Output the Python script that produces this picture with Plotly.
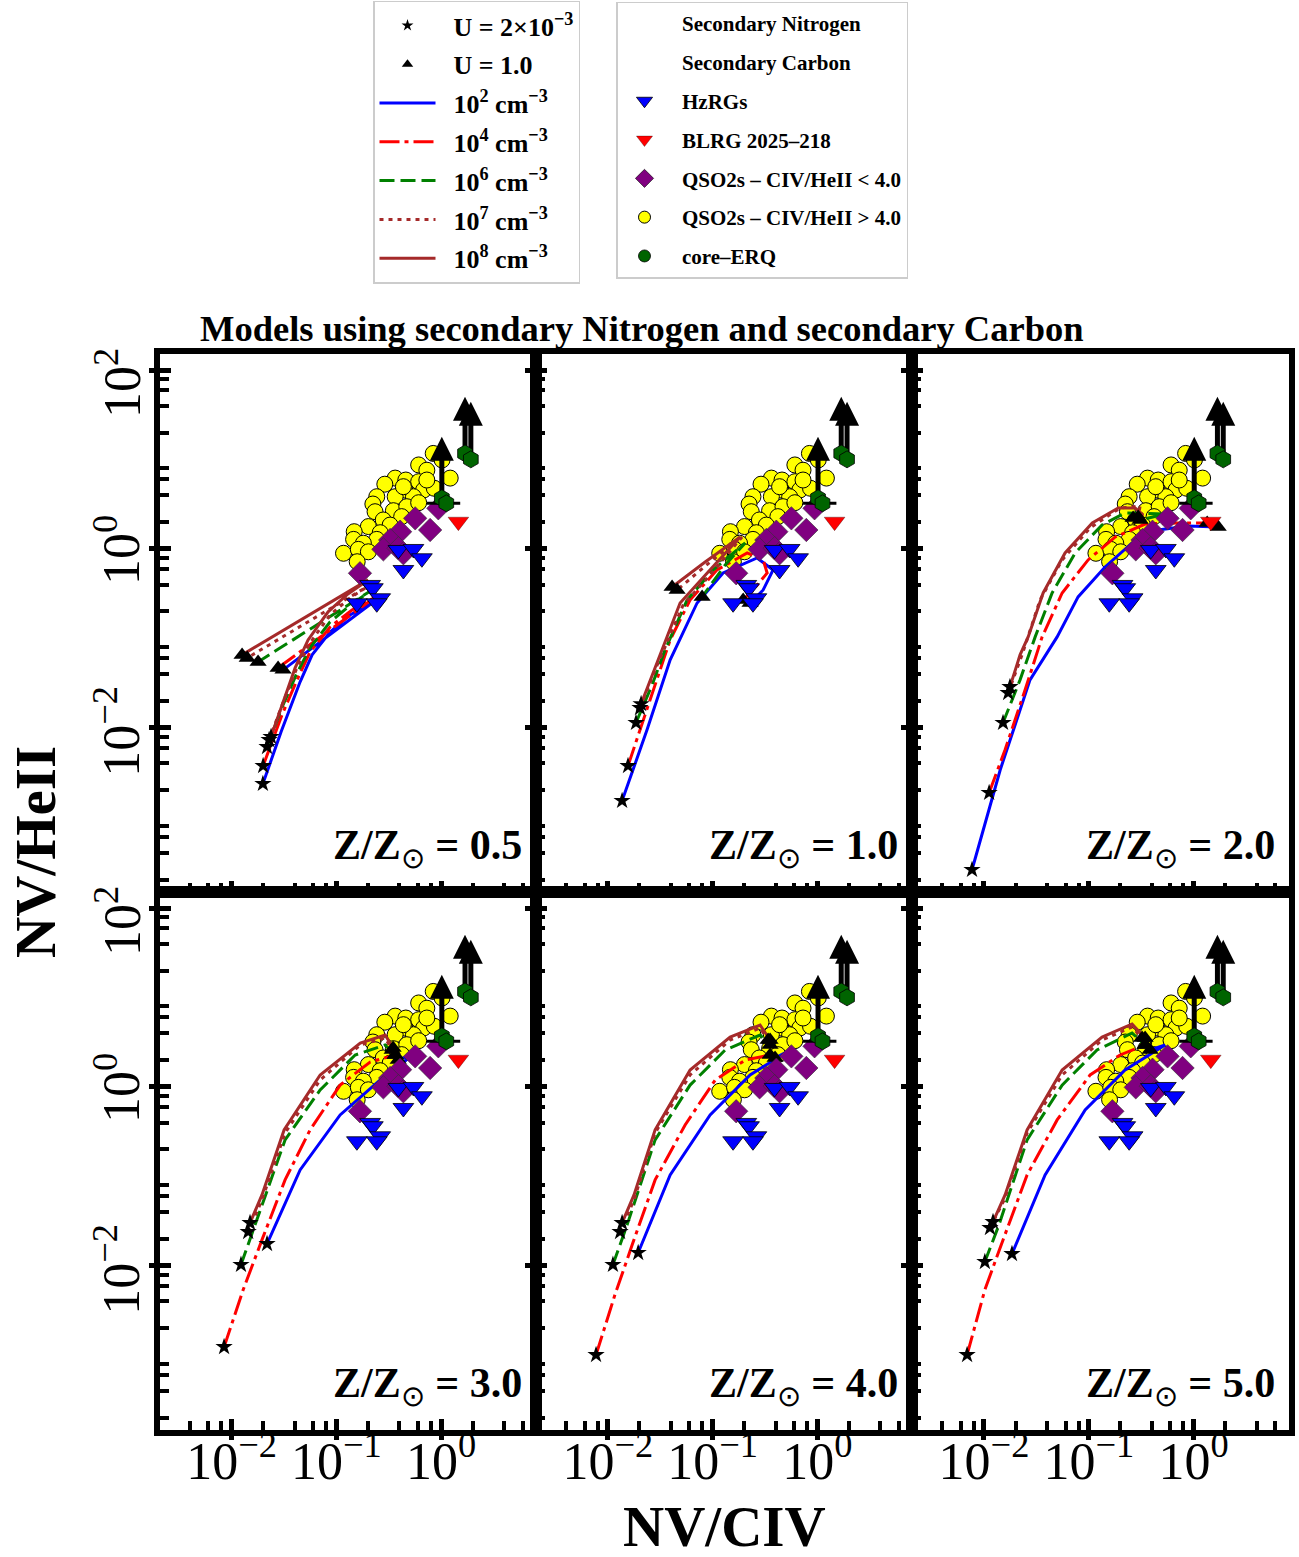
import math
import plotly.graph_objects as go

W, H = 1299, 1557
SERIF = "Liberation Serif"

# ---------------- observed samples (identical in all panels) ----------------
qso_hi_x = [0.84, 1.02, 0.61, 0.73, 1.22, 0.364, 0.46, 0.61, 0.29, 0.45, 0.68, 0.86, 0.243, 0.364,
            0.544, 0.223, 0.35, 0.47, 0.61, 0.234, 0.42, 0.28, 0.202, 0.326, 0.262, 0.148, 0.146,
            0.243, 0.181, 0.117, 0.162, 0.202, 0.158, 0.436, 0.73]
qso_hi_y = [11.7, 9.9, 8.7, 7.6, 6.2, 6.2, 5.9, 5.65, 5.3, 4.56, 4.56, 4.77, 3.84, 3.84,
            3.84, 3.18, 2.68, 2.97, 3.29, 2.61, 2.30, 2.11, 1.78, 1.85, 1.52, 1.56, 1.28,
            1.28, 1.16, 0.895, 0.99, 0.93, 0.72, 4.97, 5.9]
qso_lo_x = [0.94, 0.565, 0.785, 0.406, 0.326, 0.281, 0.391, 0.436, 0.168]
qso_lo_y = [2.85, 2.2, 1.63, 1.56, 1.26, 0.99, 1.02, 0.895, 0.535]
hzrg_x = [0.391, 0.544, 0.655, 0.436, 0.21, 0.223, 0.157, 0.262, 0.243]
hzrg_y = [0.975, 1.0, 0.787, 0.582, 0.396, 0.364, 0.247, 0.281, 0.247]
blrg_x = [1.46]
blrg_y = [2.02]
erq_x = [1.69, 1.92, 1.015, 1.12]
erq_y = [11.7, 10.05, 3.69, 3.24]
erq_xerr_minus = [0, 0, 0, 0.39]
erq_xerr_plus = [0, 0, 0, 0.40]
# lower limits on NV/HeII (arrows)
erq_lim_x = [1.69, 1.92, 1.015]
erq_lim_base = [11.7, 10.05, 3.69]
erq_lim_top = [50.3, 44.2, 18.0]

# ---------------- photoionisation models ----------------
# order in each list: n=1e2, 1e4, 1e6, 1e7, 1e8 ; first point U=2e-3, last point U=1.0
z05_x = [[0.0199, 0.0297, 0.0451, 0.0587, 0.0871, 0.135, 0.219, 0.031],
         [0.02, 0.0303, 0.0422, 0.0561, 0.0871, 0.141, 0.229, 0.0278],
         [0.0218, 0.031, 0.0413, 0.0561, 0.0871, 0.141, 0.219, 0.0179],
         [0.0228, 0.0317, 0.0413, 0.0561, 0.0871, 0.135, 0.21, 0.0141],
         [0.0238, 0.0324, 0.0404, 0.0537, 0.0834, 0.129, 0.201, 0.0126]]
z05_y = [[0.00237, 0.00902, 0.0327, 0.0654, 0.118, 0.183, 0.249, 0.0445],
         [0.00376, 0.014, 0.0344, 0.0707, 0.134, 0.208, 0.284, 0.0468],
         [0.00613, 0.0181, 0.0391, 0.0783, 0.153, 0.243, 0.348, 0.0546],
         [0.00734, 0.0206, 0.0445, 0.0891, 0.183, 0.284, 0.396, 0.0605],
         [0.00794, 0.0216, 0.0468, 0.0962, 0.198, 0.314, 0.451, 0.0654]]

z10_x = [[0.0137, 0.0237, 0.0394, 0.0712, 0.126, 0.266, 0.378, 0.304, 0.228],
         [0.0156, 0.0253, 0.0394, 0.061, 0.11, 0.214, 0.304, 0.332, 0.244, 0.196],
         [0.0186, 0.0265, 0.0352, 0.0571, 0.101, 0.205, 0.132, 0.0795],
         [0.0203, 0.0283, 0.0377, 0.0524, 0.0948, 0.191, 0.0948, 0.0459],
         [0.0208, 0.0283, 0.036, 0.049, 0.0907, 0.183, 0.0849, 0.0411]]
z10_y = [[0.00153, 0.0095, 0.0575, 0.249, 0.539, 0.794, 0.582, 0.348, 0.249],
         [0.00376, 0.0206, 0.0962, 0.269, 0.582, 0.902, 0.754, 0.539, 0.348, 0.269],
         [0.0114, 0.0302, 0.0744, 0.269, 0.582, 1.167, 0.663, 0.291],
         [0.0167, 0.0445, 0.0962, 0.237, 0.512, 1.362, 0.716, 0.348],
         [0.0185, 0.0468, 0.0962, 0.249, 0.553, 1.362, 0.716, 0.376]]

z20_x = [[0.00769, 0.0143, 0.0275, 0.0499, 0.0791, 0.143, 0.259, 0.459, 0.888, 1.718],
         [0.0112, 0.0159, 0.0247, 0.0359, 0.0557, 0.0986, 0.179, 0.345, 0.713, 1.349],
         [0.0152, 0.0221, 0.0308, 0.0447, 0.0741, 0.134, 0.222, 0.536, 0.309],
         [0.017, 0.0231, 0.0343, 0.0557, 0.103, 0.199, 0.309, 0.296],
         [0.0177, 0.0221, 0.0264, 0.0367, 0.0594, 0.108, 0.191, 0.277, 0.33, 0.265]]
z20_y = [[0.000259, 0.0034, 0.0344, 0.104, 0.291, 0.629, 1.167, 1.63, 1.807, 1.762],
         [0.00188, 0.00568, 0.0266, 0.104, 0.322, 0.754, 1.362, 1.902, 1.954, 1.954],
         [0.0114, 0.0344, 0.104, 0.322, 0.902, 1.855, 2.525, 2.46, 2.11],
         [0.0246, 0.0654, 0.269, 0.754, 1.717, 2.87, 3.02, 2.28],
         [0.0287, 0.0654, 0.104, 0.322, 0.902, 1.954, 2.87, 2.87, 2.4, 2.22]]

z30_x = [[0.0218, 0.0451, 0.1086, 0.262, 0.565, 0.389],
         [0.00848, 0.0129, 0.0195, 0.0324, 0.0561, 0.1086, 0.21, 0.364],
         [0.0123, 0.0168, 0.0324, 0.07, 0.151, 0.292, 0.364],
         [0.0144, 0.0195, 0.0324, 0.07, 0.169, 0.292, 0.341],
         [0.015, 0.0195, 0.0317, 0.07, 0.169, 0.292, 0.348]]
z30_y = [[0.0176, 0.118, 0.486, 1.197, 2.4, 2.0],
         [0.00124, 0.0054, 0.0195, 0.0914, 0.331, 1.05, 1.9, 2.28],
         [0.0103, 0.0287, 0.256, 0.926, 2.28, 2.95, 2.28],
         [0.024, 0.0546, 0.306, 1.197, 2.95, 3.53, 2.59],
         [0.0302, 0.0621, 0.331, 1.362, 3.1, 3.81, 2.73]]

z40_x = [[0.0195, 0.0394, 0.0948, 0.228, 0.55, 0.395],
         [0.00773, 0.0117, 0.0171, 0.0283, 0.0547, 0.106, 0.205, 0.354],
         [0.0112, 0.0153, 0.0283, 0.061, 0.132, 0.284, 0.354],
         [0.0131, 0.0178, 0.0283, 0.061, 0.147, 0.284, 0.339],
         [0.0137, 0.0178, 0.0283, 0.061, 0.147, 0.284, 0.354]]
z40_y = [[0.014, 0.104, 0.486, 1.362, 2.59, 2.11],
         [0.00101, 0.00474, 0.0172, 0.0914, 0.376, 1.197, 2.0, 2.28],
         [0.0103, 0.0287, 0.256, 1.05, 2.59, 3.81, 2.95],
         [0.024, 0.0546, 0.306, 1.362, 3.35, 4.56, 3.35],
         [0.0302, 0.0621, 0.331, 1.549, 3.62, 4.93, 3.35]]

z50_x = [[0.0185, 0.0383, 0.0923, 0.222, 0.536, 0.385],
         [0.0069, 0.0102, 0.0152, 0.0258, 0.0499, 0.103, 0.199, 0.345],
         [0.0102, 0.0139, 0.0258, 0.0557, 0.12, 0.259, 0.345],
         [0.0114, 0.0156, 0.0258, 0.0557, 0.134, 0.259, 0.323],
         [0.0122, 0.0159, 0.0258, 0.0557, 0.134, 0.259, 0.345]]
z50_y = [[0.0136, 0.104, 0.553, 1.549, 2.95, 2.59],
         [0.00101, 0.0054, 0.0195, 0.104, 0.428, 1.362, 2.28, 2.95],
         [0.0111, 0.0287, 0.256, 1.05, 2.59, 4.01, 2.95],
         [0.0266, 0.0546, 0.306, 1.362, 3.35, 4.68, 3.53],
         [0.031, 0.0621, 0.331, 1.549, 3.62, 5.06, 3.53]]

metallicities = ["0.5", "1.0", "2.0", "3.0", "4.0", "5.0"]
panel_x = [z05_x, z10_x, z20_x, z30_x, z40_x, z50_x]
panel_y = [z05_y, z10_y, z20_y, z30_y, z40_y, z50_y]

dens_names = ["10<sup>2</sup> cm<sup>−3</sup>", "10<sup>4</sup> cm<sup>−3</sup>",
              "10<sup>6</sup> cm<sup>−3</sup>", "10<sup>7</sup> cm<sup>−3</sup>",
              "10<sup>8</sup> cm<sup>−3</sup>"]
dens_colors = ["#0000ff", "#ff0000", "#008000", "#a52a2a", "#a52a2a"]
dens_dash = ["solid", "20px,5px,4px,5px", "15px,6px", "4px,5px", "solid"]

x_major = [1e-2, 1e-1, 1e0]
x_major_text = ["10<sup>−2</sup>", "10<sup>−1</sup>", "10<sup>0</sup>"]
y_major = [1e-2, 1e0, 1e2]
y_major_text = ["10<sup>−2</sup>", "10<sup>0</sup>", "10<sup>2</sup>"]
y_label_shift = [-4, -1, -13]          # rotated label placement as in the original
x_minor = [m * 10.0 ** e for e in range(-3, 1) for m in (2, 4, 6, 8)]
y_minor = [m * 10.0 ** e for e in range(-4, 3) for m in (2, 4, 6, 8)]
X_RANGE = [-2.683, 0.907]
Y_RANGE = [-3.83, 2.18]

fig = go.Figure()

LEFT, PW = 160.0, 376.2
ROW_TOP = [354.0, 892.0]
PH = 537.5


def sfx(k):
    return "" if k == 1 else str(k)


for k in range(1, 7):
    r, c = divmod(k - 1, 3)
    xa, ya = "x" + sfx(k), "y" + sfx(k)
    mx, my = panel_x[k - 1], panel_y[k - 1]

    # QSO2s CIV/HeII > 4
    fig.add_trace(go.Scatter(x=qso_hi_x, y=qso_hi_y, mode="markers", xaxis=xa, yaxis=ya,
                             marker=dict(symbol="circle", size=16, color="#ffff00",
                                         line=dict(color="black", width=1)),
                             showlegend=False, hoverinfo="skip"))
    # model curves
    for i in range(5):
        fig.add_trace(go.Scatter(x=mx[i], y=my[i], mode="lines", xaxis=xa, yaxis=ya,
                                 line=dict(color=dens_colors[i], width=3, dash=dens_dash[i]),
                                 showlegend=False, hoverinfo="skip"))
    fig.add_trace(go.Scatter(x=[s[0] for s in mx], y=[s[0] for s in my], mode="markers",
                             xaxis=xa, yaxis=ya,
                             marker=dict(symbol="star", size=13, color="black"),
                             showlegend=False, hoverinfo="skip"))
    fig.add_trace(go.Scatter(x=[s[-1] for s in mx], y=[s[-1] for s in my], mode="markers",
                             xaxis=xa, yaxis=ya,
                             marker=dict(symbol="triangle-up", size=15, color="black"),
                             showlegend=False, hoverinfo="skip"))
    # QSO2s CIV/HeII < 4
    fig.add_trace(go.Scatter(x=qso_lo_x, y=qso_lo_y, mode="markers", xaxis=xa, yaxis=ya,
                             marker=dict(symbol="diamond", size=18, color="#800080",
                                         line=dict(color="#333333", width=0.6)),
                             showlegend=False, hoverinfo="skip"))
    fig.add_trace(go.Scatter(x=hzrg_x, y=hzrg_y, mode="markers", xaxis=xa, yaxis=ya,
                             marker=dict(symbol="triangle-down", size=18, color="#0000ff",
                                         line=dict(color="black", width=0.8)),
                             showlegend=False, hoverinfo="skip"))
    fig.add_trace(go.Scatter(x=blrg_x, y=blrg_y, mode="markers", xaxis=xa, yaxis=ya,
                             marker=dict(symbol="triangle-down", size=18, color="#ff0000",
                                         line=dict(color="black", width=0.3)),
                             showlegend=False, hoverinfo="skip"))
    # lower-limit arrows
    for j in range(len(erq_lim_x)):
        fig.add_trace(go.Scatter(x=[erq_lim_x[j], erq_lim_x[j]],
                                 y=[erq_lim_base[j], erq_lim_top[j] / 10 ** 0.2],
                                 mode="lines", xaxis=xa, yaxis=ya,
                                 line=dict(color="black", width=5),
                                 showlegend=False, hoverinfo="skip"))
        fig.add_trace(go.Scatter(x=[erq_lim_x[j]], y=[erq_lim_top[j]], mode="markers",
                                 xaxis=xa, yaxis=ya,
                                 marker=dict(symbol="arrow-up", size=24, color="black",
                                             line=dict(width=0)),
                                 showlegend=False, hoverinfo="skip"))
    fig.add_trace(go.Scatter(x=erq_x, y=erq_y, mode="markers", xaxis=xa, yaxis=ya,
                             error_x=dict(type="data", symmetric=False, array=erq_xerr_plus,
                                          arrayminus=erq_xerr_minus, color="black",
                                          thickness=3, width=0),
                             marker=dict(symbol="hexagon", size=17, color="#006400",
                                         line=dict(color="black", width=0.8)),
                             showlegend=False, hoverinfo="skip"))

    x0 = (LEFT + c * PW) / W
    x1 = (LEFT + (c + 1) * PW) / W
    y1 = 1 - ROW_TOP[r] / H
    y0 = 1 - (ROW_TOP[r] + PH) / H
    common = dict(type="log", showgrid=False, zeroline=False, showline=True, linewidth=5.5,
                  linecolor="black", mirror=True, ticks="inside", ticklen=11, tickwidth=4.5,
                  tickcolor="black", automargin=False,
                  tickfont=dict(family=SERIF, size=52, color="black"))
    fig.layout["xaxis" + sfx(k)] = dict(common, domain=[x0, x1], anchor=ya, range=X_RANGE,
                                        tickmode="array", tickvals=x_major, ticktext=x_major_text,
                                        showticklabels=(r == 1), tickangle=0,
                                        ticklabelstandoff=-19,
                                        minor=dict(ticks="inside", ticklen=9, tickwidth=3.5,
                                                   tickcolor="black", tickmode="array",
                                                   tickvals=x_minor, showgrid=False))
    fig.layout["yaxis" + sfx(k)] = dict(common, domain=[y0, y1], anchor=xa, range=Y_RANGE,
                                        tickmode="array", tickvals=y_major, ticktext=y_major_text,
                                        showticklabels=False,
                                        minor=dict(ticks="inside", ticklen=9, tickwidth=3.5,
                                                   tickcolor="black", tickmode="array",
                                                   tickvals=y_minor, showgrid=False))
    # y tick labels of the left column (rotated)
    if c == 0:
        for v, t, s in zip(y_major, y_major_text, y_label_shift):
            fig.add_annotation(xref="paper", yref=ya, x=118 / W, y=math.log10(v), yshift=s,
                               xanchor="center", yanchor="middle", textangle=-90,
                               showarrow=False, text=t,
                               font=dict(family=SERIF, size=52, color="black"))
    # outward part of the major ticks (in-out ticks)
    oy = "y" + str(k + 6)
    fig.layout["yaxis" + str(k + 6)] = dict(type="log", overlaying=ya, anchor=xa, side="left",
                                            range=Y_RANGE, showgrid=False, zeroline=False,
                                            showline=False, ticks="outside", ticklen=10,
                                            tickwidth=4.5, tickcolor="black", tickmode="array",
                                            tickvals=y_major, showticklabels=False,
                                            automargin=False)
    fig.add_trace(go.Scatter(x=[None], y=[None], xaxis=xa, yaxis=oy, showlegend=False,
                             hoverinfo="skip"))
    if r == 1:
        ox = "x" + str(k + 6)
        fig.layout["xaxis" + str(k + 6)] = dict(type="log", overlaying=xa, anchor=ya,
                                                side="bottom", range=X_RANGE, showgrid=False,
                                                zeroline=False, showline=False,
                                                ticks="outside", ticklen=9, tickwidth=4.5,
                                                tickcolor="black", tickmode="array",
                                                tickvals=x_major, showticklabels=False,
                                                automargin=False)
        fig.add_trace(go.Scatter(x=[None], y=[None], xaxis=ox, yaxis=ya, showlegend=False,
                                 hoverinfo="skip"))

    fig.add_annotation(xref="x" + sfx(k) + " domain", yref="y" + sfx(k) + " domain",
                       x=0.968, y=0.028, xanchor="right", yanchor="bottom", showarrow=False,
                       text="<b>Z/Z</b><sub>⊙</sub><b> = " + metallicities[k - 1] + "</b>",
                       font=dict(family=SERIF, size=42, color="black"))

# ---------------- legends ----------------
SP = "&nbsp;&nbsp;"
leg1 = [
    dict(name=SP + "<b>U = 2×10<sup>−3</sup></b>", mode="markers",
         marker=dict(symbol="star", size=9, color="black")),
    dict(name=SP + "<b>U = 1.0</b>", mode="markers",
         marker=dict(symbol="triangle-up", size=10, color="black")),
]
for i in range(5):
    leg1.append(dict(name=SP + "<b>" + dens_names[i] + "</b>", mode="lines",
                     line=dict(color=dens_colors[i], width=3, dash=dens_dash[i])))
for i, d in enumerate(leg1):
    fig.add_trace(go.Scatter(x=[None], y=[None], legend="legend", legendgroup="a%d" % i,
                             showlegend=True, **d))

leg2 = [
    dict(name="<b>Secondary Nitrogen</b>", marker=dict(size=1, color="rgba(0,0,0,0)")),
    dict(name="<b>Secondary Carbon</b>", marker=dict(size=1, color="rgba(0,0,0,0)")),
    dict(name="<b>HzRGs</b>", marker=dict(symbol="triangle-down", size=14, color="#0000ff",
                                          line=dict(color="black", width=0.8))),
    dict(name="<b>BLRG 2025–218</b>", marker=dict(symbol="triangle-down", size=14,
                                                  color="#ff0000",
                                                  line=dict(color="black", width=0.3))),
    dict(name="<b>QSO2s – CIV/HeII &lt; 4.0</b>", marker=dict(symbol="diamond", size=14,
                                                              color="#800080",
                                                              line=dict(color="black",
                                                                        width=0.6))),
    dict(name="<b>QSO2s – CIV/HeII &gt; 4.0</b>", marker=dict(symbol="circle", size=12,
                                                              color="#ffff00",
                                                              line=dict(color="black",
                                                                        width=1))),
    dict(name="<b>core–ERQ</b>", marker=dict(symbol="circle", size=12, color="#006400",
                                             line=dict(color="black", width=0.8))),
]
for i, d in enumerate(leg2):
    d["name"] = SP + d["name"]
    fig.add_trace(go.Scatter(x=[None], y=[None], mode="markers", legend="legend2",
                             legendgroup="b%d" % i, showlegend=True, **d))

fig.update_layout(
    width=W, height=H, autosize=False, template="none",
    margin=dict(l=0, r=0, t=0, b=0),
    paper_bgcolor="white", plot_bgcolor="white",
    showlegend=True,
    legend=dict(x=373 / W, y=1 - 0.5 / H, xanchor="left", yanchor="top", bgcolor="white",
                bordercolor="#cccccc", borderwidth=1.5, tracegroupgap=2, itemwidth=56,
                font=dict(family=SERIF, size=26, color="black")),
    legend2=dict(x=616 / W, y=1 - 1.5 / H, xanchor="left", yanchor="top", bgcolor="white",
                 bordercolor="#cccccc", borderwidth=1.5, tracegroupgap=8.5, itemwidth=44,
                 font=dict(family=SERIF, size=21, color="black")),
)

fig.add_annotation(xref="paper", yref="paper", x=642 / W, y=1 - 328 / H, showarrow=False,
                   xanchor="center", yanchor="middle",
                   text="<b>Models using secondary Nitrogen and secondary Carbon</b>",
                   font=dict(family=SERIF, size=36.5, color="black"))
fig.add_annotation(xref="paper", yref="paper", x=35 / W, y=1 - 852 / H, showarrow=False,
                   xanchor="center", yanchor="middle",
                   textangle=-90, text="<b>NV/HeII</b>",
                   font=dict(family=SERIF, size=57, color="black"))
fig.add_annotation(xref="paper", yref="paper", x=724 / W, y=1 - 1526 / H, showarrow=False,
                   xanchor="center", yanchor="middle",
                   text="<b>NV/CIV</b>", font=dict(family=SERIF, size=57, color="black"))

fig.write_html("out.html")
